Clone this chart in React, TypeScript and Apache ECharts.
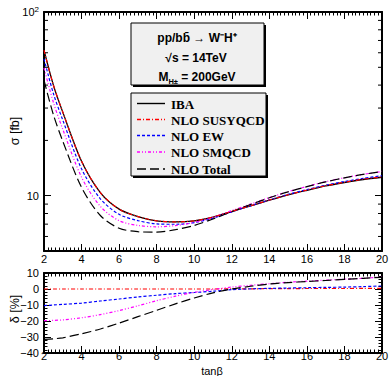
import React, { useEffect, useRef } from 'react';
import * as echarts from 'echarts';

// tan(beta) sample points
const tanB = [2, 2.5, 3, 4, 5, 6, 7, 8, 9, 10, 11, 12, 13, 14, 15, 16, 17, 18, 19, 20];

// cross sections [fb]
const sigmaIBA = [62, 40, 28.5, 15.4, 10.4, 8.45, 7.7, 7.3, 7.2, 7.3, 7.65, 8.2, 8.8, 9.45, 10.1, 10.7, 11.3, 11.8, 12.25, 12.6];
const sigmaSUSYQCD = [62, 40, 28.5, 15.4, 10.4, 8.45, 7.7, 7.3, 7.2, 7.3, 7.65, 8.21, 8.81, 9.47, 10.12, 10.73, 11.33, 11.84, 12.3, 12.65];
const sigmaEW = [55.6, 36.0, 25.8, 14.0, 9.62, 7.92, 7.32, 7.02, 6.99, 7.14, 7.54, 8.17, 8.81, 9.49, 10.16, 10.79, 11.41, 11.94, 12.43, 12.84];
const sigmaSMQCD = [49.7, 32.2, 23.0, 12.6, 8.74, 7.31, 6.89, 6.77, 6.88, 7.15, 7.63, 8.3, 9.0, 9.76, 10.52, 11.22, 11.92, 12.52, 13.07, 13.55];
const sigmaTotal = [42.5, 27.6, 19.8, 11.1, 7.8, 6.65, 6.37, 6.33, 6.53, 6.89, 7.47, 8.2, 8.95, 9.74, 10.5, 11.2, 11.9, 12.51, 13.07, 13.52];

// relative corrections delta [%]
const deltaSUSYQCD = [0, 0, 0, 0, 0, 0, 0, 0, 0, 0, 0, 0.1, 0.1, 0.2, 0.2, 0.3, 0.3, 0.3, 0.4, 0.4];
const deltaEW = [-10.4, -10, -9.6, -8.8, -7.5, -6.25, -5, -3.9, -2.9, -2.2, -1.4, -0.4, 0.1, 0.4, 0.6, 0.8, 1.0, 1.2, 1.5, 1.9];
const deltaSMQCD = [-19.8, -19.6, -19.3, -18, -16, -13.5, -10.5, -7.3, -4.5, -2.1, -0.3, 1.2, 2.3, 3.3, 4.2, 4.9, 5.5, 6.1, 6.7, 7.5];
const deltaTotal = [-31.5, -31.1, -30.5, -28, -25, -21.3, -17.3, -13.3, -9.3, -5.6, -2.4, 0, 1.7, 3.1, 4, 4.7, 5.3, 6, 6.7, 7.3];

// axis tick values
const sigmaMinorTicks = [6, 7, 8, 9, 20, 30, 40, 50, 60, 70, 80, 90];

const legendNames = ['IBA', 'NLO SUSYQCD', 'NLO EW', 'NLO SMQCD', 'NLO Total'];
const legendColors = ['#000000', '#ff0000', '#0000ff', '#ff00ff', '#000000'];
const legendDashes: any[] = ['solid', [4, 2, 1, 2], [3, 2], [3, 2, 1, 2, 1, 2], [9, 4]];

const SANS = 'Liberation Sans, Arial, Helvetica, sans-serif';
const SERIF = 'Liberation Serif, Times New Roman, serif';

const pair = (ys: number[]) => tanB.map((t, i) => [t, ys[i]]);

function xAxisCfg(gridIndex: number, top: boolean, labelMargin: number) {
  return {
    type: 'value',
    gridIndex,
    position: top ? 'top' : 'bottom',
    min: 2,
    max: 20,
    interval: 2,
    axisLine: { show: true, onZero: false, lineStyle: { color: '#000', width: 2 } },
    axisTick: { show: true, inside: true, length: 7, lineStyle: { color: '#000', width: 1 } },
    minorTick: { show: true, splitNumber: 10, length: 3.5, lineStyle: { color: '#000', width: 1 } },
    axisLabel: { show: !top, margin: labelMargin, fontSize: 11, color: '#000', fontFamily: SANS },
    splitLine: { show: false },
    minorSplitLine: { show: false },
  };
}

function App() {
  const ref = useRef<HTMLDivElement>(null);
  useEffect(() => {
    if (!ref.current) return;
    const chart = echarts.init(ref.current, undefined, { renderer: 'svg' });

    const logY = (right: boolean) => ({
      type: 'log',
      gridIndex: 0,
      position: right ? 'right' : 'left',
      min: 5,
      max: 100,
      logBase: 10,
      axisLine: { show: true, onZero: false, lineStyle: { color: '#000', width: 2 } },
      axisTick: { show: true, inside: true, length: 7, lineStyle: { color: '#000', width: 1 } },
      axisLabel: {
        show: !right,
        margin: 5,
        color: '#000',
        fontSize: 11,
        fontFamily: SANS,
        showMinLabel: false,
        formatter: (v: number) => {
          if (Math.abs(v - 100) < 0.5) return '{b|10}{s|2}';
          if (Math.abs(v - 10) < 0.05) return '{b|10}';
          return '';
        },
        rich: {
          b: { fontSize: 11, color: '#000', fontFamily: SANS, lineHeight: 14 },
          s: { fontSize: 8, color: '#000', fontFamily: SANS, verticalAlign: 'top', lineHeight: 8 },
        },
      },
      splitLine: { show: false },
    });

    const linY = (right: boolean) => ({
      type: 'value',
      gridIndex: 1,
      position: right ? 'right' : 'left',
      min: -40,
      max: 10,
      interval: 10,
      axisLine: { show: true, onZero: false, lineStyle: { color: '#000', width: 2 } },
      axisTick: { show: true, inside: true, length: 7, lineStyle: { color: '#000', width: 1 } },
      minorTick: { show: true, splitNumber: 5, length: 3.5, lineStyle: { color: '#000', width: 1 } },
      axisLabel: {
        show: !right,
        margin: 5,
        color: '#000',
        fontSize: 11,
        fontFamily: SANS,
        formatter: (v: number) => (v < 0 ? '\u2212' + Math.abs(v) : String(v)),
      },
      splitLine: { show: false },
      minorSplitLine: { show: false },
    });

    const sigmaSeries = [sigmaIBA, sigmaSUSYQCD, sigmaEW, sigmaSMQCD, sigmaTotal];
    const deltaSeries = [null, deltaSUSYQCD, deltaEW, deltaSMQCD, deltaTotal];

    const series: any[] = [];
    sigmaSeries.forEach((ys, i) => {
      series.push({
        type: 'line',
        name: legendNames[i],
        xAxisIndex: 0,
        yAxisIndex: 0,
        data: pair(ys),
        showSymbol: false,
        smooth: 0.3,
        lineStyle: { color: legendColors[i], width: i === 0 ? 1.3 : 1.2, type: legendDashes[i] },
        z: i === 1 ? 5 : 3,
      });
    });
    deltaSeries.forEach((ys, i) => {
      if (!ys) return;
      series.push({
        type: 'line',
        name: legendNames[i] + ' δ',
        xAxisIndex: 2,
        yAxisIndex: 2,
        data: pair(ys),
        showSymbol: false,
        smooth: 0.3,
        lineStyle: { color: legendColors[i], width: 1.2, type: legendDashes[i] },
      });
    });
    series.push({
      type: 'custom',
      xAxisIndex: 0,
      yAxisIndex: 0,
      silent: true,
      clip: false,
      data: sigmaMinorTicks.map((v) => [2, v]),
      renderItem: (params: any, api: any) => {
        const l = api.coord([2, api.value(1)]);
        const r = api.coord([20, api.value(1)]);
        return {
          type: 'group',
          children: [
            { type: 'line', shape: { x1: l[0], y1: l[1], x2: l[0] + 4, y2: l[1] }, style: { stroke: '#000', lineWidth: 1 } },
            { type: 'line', shape: { x1: r[0] - 4, y1: r[1], x2: r[0], y2: r[1] }, style: { stroke: '#000', lineWidth: 1 } },
          ],
        };
      },
    });

    const legendY = [103.5, 119.5, 135.5, 152, 169];
    const graphic: any[] = [
      { type: 'rect', shape: { x: 133, y: 25, width: 133, height: 62 }, style: { fill: '#000' }, z: 10 },
      { type: 'rect', shape: { x: 131, y: 23, width: 133, height: 62 }, style: { fill: '#f0f0f0', stroke: '#000', lineWidth: 1 }, z: 11 },
      {
        type: 'text', x: 197, y: 38, z: 12,
        style: { text: 'pp/bb̄ → W⁻H⁺', fill: '#000', font: `bold 12px ${SANS}`, textAlign: 'center', textVerticalAlign: 'middle' },
      },
      {
        type: 'text', x: 196, y: 58, z: 12,
        style: { text: '√s = 14TeV', fill: '#000', font: `bold 12px ${SANS}`, textAlign: 'center', textVerticalAlign: 'middle' },
      },
      {
        type: 'text', x: 197, y: 77, z: 12,
        style: {
          text: '{m|M}{h|H±}{m| = 200GeV}',
          textAlign: 'center',
          textVerticalAlign: 'middle',
          rich: {
            m: { fontSize: 12, fontWeight: 'bold', fontFamily: SANS, fill: '#000', lineHeight: 16 },
            h: { fontSize: 7.5, fontWeight: 'bold', fontFamily: SANS, fill: '#000', verticalAlign: 'bottom', lineHeight: 8 },
          },
        },
      },
      { type: 'rect', shape: { x: 133, y: 95, width: 135, height: 83 }, style: { fill: '#000' }, z: 10 },
      { type: 'rect', shape: { x: 131, y: 93, width: 135, height: 83 }, style: { fill: '#f0f0f0', stroke: '#000', lineWidth: 1 }, z: 11 },
      // axis titles
      {
        type: 'text', x: 15, y: 131, rotation: Math.PI / 2, z: 12,
        style: { text: 'σ [fb]', fill: '#000', font: `12.5px ${SANS}`, textAlign: 'center', textVerticalAlign: 'middle' },
      },
      {
        type: 'text', x: 15, y: 309, rotation: Math.PI / 2, z: 12,
        style: { text: 'δ [%]', fill: '#000', font: `12.5px ${SANS}`, textAlign: 'center', textVerticalAlign: 'middle' },
      },
      {
        type: 'text', x: 212, y: 370.5, z: 12,
        style: { text: 'tanβ', fill: '#000', font: `11px ${SANS}`, textAlign: 'center', textVerticalAlign: 'middle' },
      },
    ];
    legendNames.forEach((nm, i) => {
      graphic.push({
        type: 'polyline', z: 13,
        shape: { points: [[137, legendY[i]], [165, legendY[i]]] },
        style: {
          stroke: legendColors[i],
          fill: null,
          lineWidth: 1.4,
          lineDash: legendDashes[i] === 'solid' ? null : legendDashes[i].slice(),
        },
      });
      graphic.push({
        type: 'text', x: 171, y: legendY[i] + 0.5, z: 12,
        style: { text: nm, fill: '#000', font: `bold 13px ${SERIF}`, textAlign: 'left', textVerticalAlign: 'middle' },
      });
    });

    chart.setOption({
      animation: false,
      backgroundColor: '#ffffff',
      grid: [
        { left: 44, top: 12, width: 338, height: 239, show: false, outerBoundsMode: 'none', containLabel: false },
        { left: 44, top: 273, width: 338, height: 80, show: false, outerBoundsMode: 'none', containLabel: false },
      ],
      xAxis: [
        xAxisCfg(0, false, 2),
        xAxisCfg(0, true, 2),
        xAxisCfg(1, false, -3),
        xAxisCfg(1, true, -3),
      ],
      yAxis: [logY(false), logY(true), linY(false), linY(true)],
      series,
      graphic,
    });
    return () => chart.dispose();
  }, []);
  return <div ref={ref} style={{ position: 'fixed', left: 0, top: 0, width: 390, height: 376 }} />;
}

export default App;
